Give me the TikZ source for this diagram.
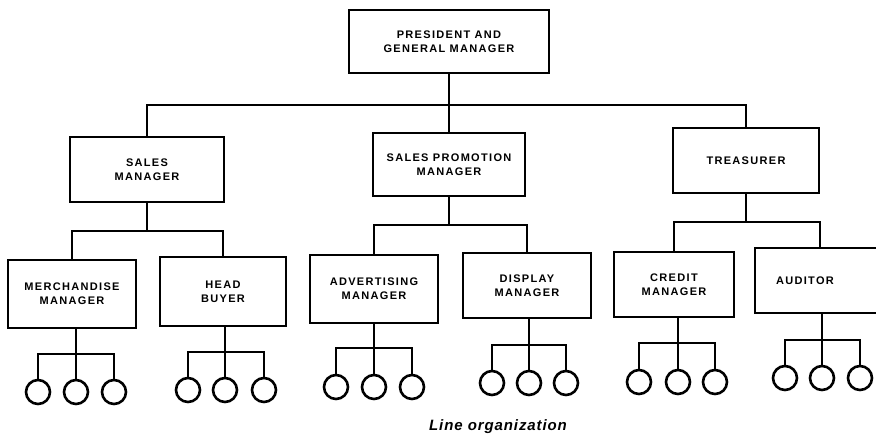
\documentclass[tikz,border=0pt]{standalone}
\usepackage{fontspec}
\setmainfont{Liberation Sans}
\begin{document}
\begin{tikzpicture}[x=1pt,y=-1pt,
  orgbox/.style={draw,line width=2.6pt,rectangle,inner sep=0pt,align=center,
    font=\fontsize{11}{14}\selectfont\bfseries\addfontfeatures{LetterSpace=12}},
  leaf/.style={draw,line width=2.6pt,circle,inner sep=0pt,minimum size=24pt},
  wire/.style={line width=2.6pt,line cap=rect,line join=miter}]
\useasboundingbox (0,0) rectangle (876,440);
\clip (0,0) rectangle (876,440);
% level 1
\node[orgbox,minimum width=200pt,minimum height=63pt] (pres) at (449,41.5) {PRESIDENT AND\\GENERAL MANAGER};
% level 2
\node[orgbox,minimum width=154pt,minimum height=65pt] (sm) at (147,169.5) {SALES\\MANAGER};
\node[orgbox,minimum width=152pt,minimum height=63pt] (spm) at (449,164.5) {SALES PROMOTION\\MANAGER};
\node[orgbox,minimum width=146pt,minimum height=65pt] (tr) at (746,160.5) {TREASURER};
% level 3
\node[orgbox,minimum width=128pt,minimum height=68pt] (mm) at (72,294) {MERCHANDISE\\MANAGER};
\node[orgbox,minimum width=126pt,minimum height=69pt] (hb) at (223,291.5) {HEAD\\BUYER};
\node[orgbox,minimum width=128pt,minimum height=68pt] (am) at (374,289) {ADVERTISING\\MANAGER};
\node[orgbox,minimum width=128pt,minimum height=65pt] (dm) at (527,285.5) {DISPLAY\\MANAGER};
\node[orgbox,minimum width=120pt,minimum height=65pt] (cm) at (674,284.5) {CREDIT\\MANAGER};
\node[orgbox,minimum width=130pt,minimum height=65pt] (au) at (820,280.5) {AUDITOR\hspace*{30pt}};
% leaves
\foreach \g/\a/\b/\c/\y in {mm/38/76/114/392, hb/188/225/264/390, am/336/374/412/387,
    dm/492/529/566/383, cm/639/678/715/382, au/785/822/860/378}{
  \node[leaf] (\g1) at (\a,\y) {};
  \node[leaf] (\g2) at (\b,\y) {};
  \node[leaf] (\g3) at (\c,\y) {};
}
% bus coordinates
\coordinate (b0) at (449,105);
\coordinate (bsm) at (147,231);
\coordinate (bspm) at (449,225);
\coordinate (btr) at (746,222);
\coordinate (bmm) at (76,354);
\coordinate (bhb) at (225,352);
\coordinate (bam) at (374,348);
\coordinate (bdm) at (529,345);
\coordinate (bcm) at (678,343);
\coordinate (bau) at (822,340);
% level 1 -> 2
\draw[wire] (pres.south) -- (spm.north);
\draw[wire] (sm.north) |- (b0) -| (tr.north);
% level 2 -> 3
\draw[wire] (sm.south) -- (bsm);
\draw[wire] (mm.north) |- (bsm) -| (hb.north);
\draw[wire] (spm.south) -- (bspm);
\draw[wire] (am.north) |- (bspm) -| (dm.north);
\draw[wire] (tr.south) -- (btr);
\draw[wire] (cm.north) |- (btr) -| (au.north);
% level 3 -> leaves
\foreach \g in {mm,hb,am,dm,cm,au}{
  \draw[wire] (\g.south -| \g2.north) -- (\g2.north);
  \draw[wire] (\g1.north) |- (b\g) -| (\g3.north);
}
% caption
\node[font=\fontsize{15}{18}\selectfont\bfseries\itshape\addfontfeatures{LetterSpace=6}] (cap) at (498,427) {Line organization};
\end{tikzpicture}
\end{document}
